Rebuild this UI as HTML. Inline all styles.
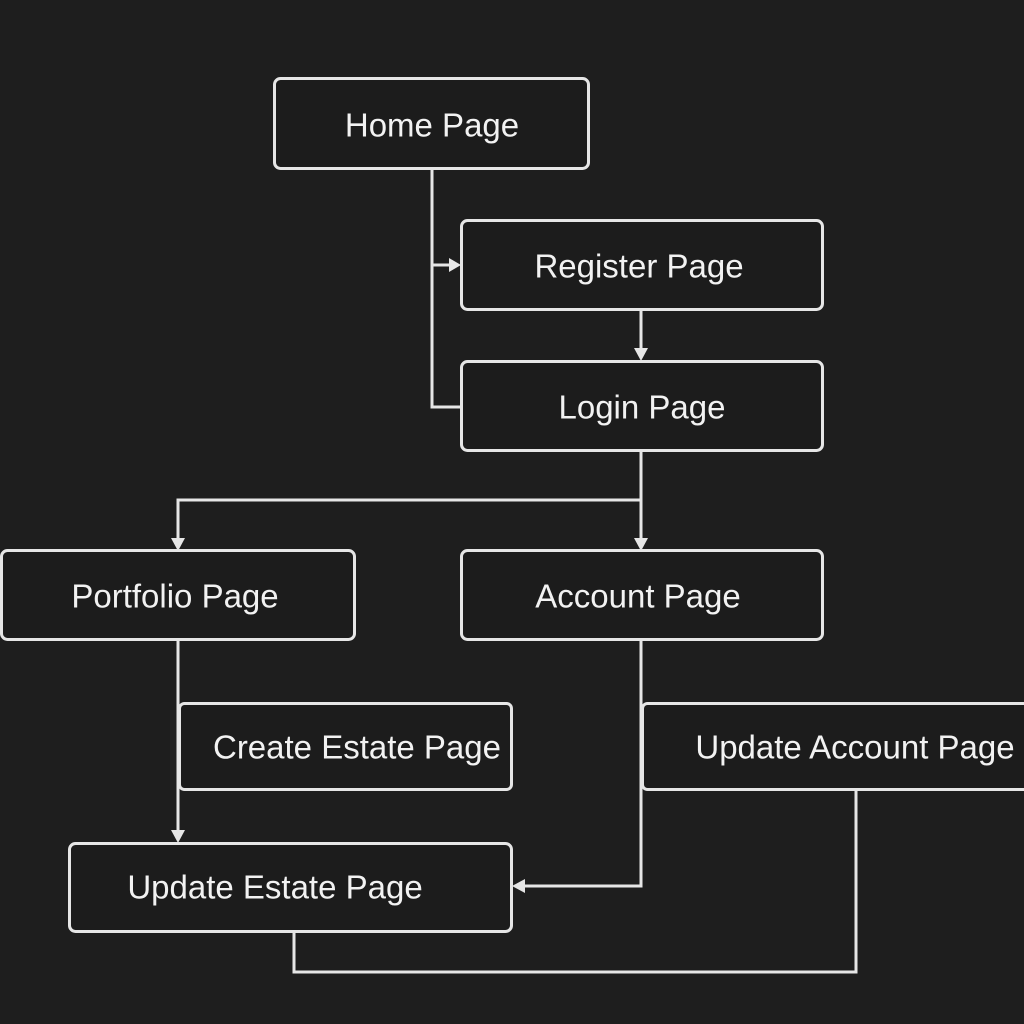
<!DOCTYPE html>
<html><head><style>
body{margin:0;background:#1e1e1e;}
svg{display:block}
text{font-family:"Liberation Sans",sans-serif;font-size:33px;fill:#f2f2f2;text-anchor:middle;dominant-baseline:central}
.b{fill:#1c1c1c;stroke:#e6e6e6;stroke-width:3}
.l{fill:none;stroke:#e6e6e6;stroke-width:3}
.a{fill:#e6e6e6}
</style></head><body>
<svg width="1024" height="1024" viewBox="0 0 1024 1024">
<rect width="1024" height="1024" fill="#1e1e1e"/>
<polyline class="l" points="432,168 432,407 461,407"/>
<line class="l" x1="432" y1="265" x2="450" y2="265"/>
<polygon class="a" points="461,265 449,258 449,272"/>
<line class="l" x1="641" y1="310" x2="641" y2="350"/>
<polygon class="a" points="641,361 634,348 648,348"/>
<line class="l" x1="641" y1="451" x2="641" y2="540"/>
<polyline class="l" points="178,540 178,500 641,500"/>
<polygon class="a" points="178,551 171,538 185,538"/>
<polygon class="a" points="641,551 634,538 648,538"/>
<line class="l" x1="178" y1="640" x2="178" y2="832"/>
<polygon class="a" points="178,843 171,830 185,830"/>
<polyline class="l" points="641,640 641,886 524,886"/>
<polygon class="a" points="512,886 525,879 525,893"/>
<polyline class="l" points="856,790 856,972 294,972 294,932"/>
<rect class="b" x="274.5" y="78.5" width="314" height="90" rx="6"/>
<text x="432" y="125">Home Page</text>
<rect class="b" x="461.5" y="220.5" width="361" height="89" rx="6"/>
<text x="639" y="266">Register Page</text>
<rect class="b" x="461.5" y="361.5" width="361" height="89" rx="6"/>
<text x="642" y="407">Login Page</text>
<rect class="b" x="1.5" y="550.5" width="353" height="89" rx="6"/>
<text x="175" y="596">Portfolio Page</text>
<rect class="b" x="461.5" y="550.5" width="361" height="89" rx="6"/>
<text x="638" y="596">Account Page</text>
<rect class="b" x="179.5" y="703.5" width="332" height="86" rx="5"/>
<text x="357" y="747">Create Estate Page</text>
<rect class="b" x="642.5" y="703.5" width="400" height="86" rx="5"/>
<text x="855" y="747">Update Account Page</text>
<rect class="b" x="69.5" y="843.5" width="442" height="88" rx="6"/>
<text x="275" y="887">Update Estate Page</text>
</svg>
</body></html>
